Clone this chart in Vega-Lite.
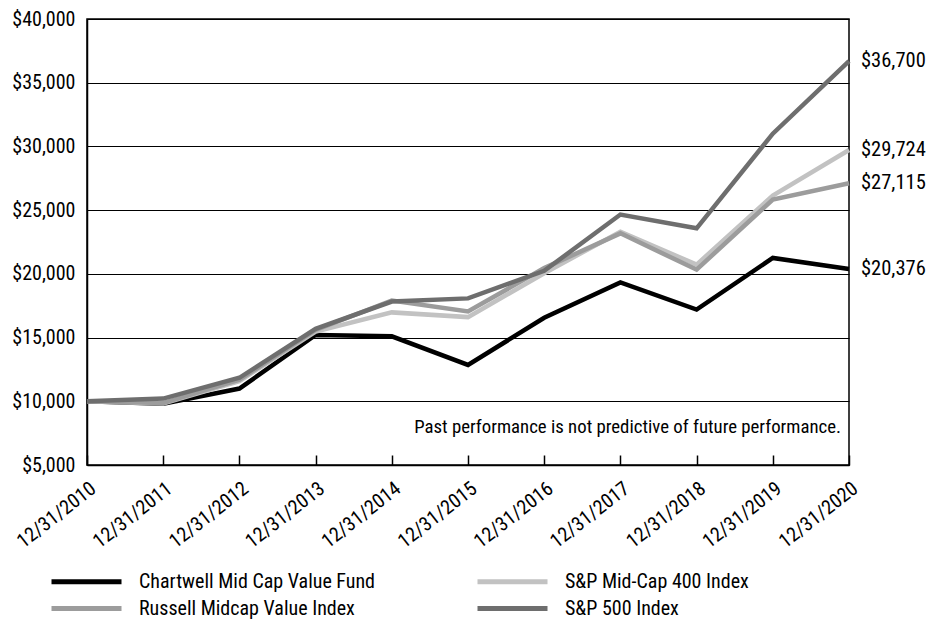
{
  "$schema": "https://vega.github.io/schema/vega-lite/v6.json",
  "width": 762,
  "height": 446,
  "autosize": {"type": "none"},
  "padding": {"left": 87, "top": 19, "right": 81, "bottom": 160},
  "background": "white",
  "config": {
    "font": "Roboto Condensed, Liberation Sans Narrow, Roboto",
    "view": {"stroke": "black", "strokeWidth": 1.5},
    "axis": {"domainColor": "black", "labelColor": "black", "tickColor": "black", "gridColor": "black", "titleColor": "black"}
  },
  "data": {
    "values": [
      {"date": "12/31/2010", "series": "Chartwell Mid Cap Value Fund", "value": 10000},
      {"date": "12/31/2011", "series": "Chartwell Mid Cap Value Fund", "value": 9800},
      {"date": "12/31/2012", "series": "Chartwell Mid Cap Value Fund", "value": 11000},
      {"date": "12/31/2013", "series": "Chartwell Mid Cap Value Fund", "value": 15200},
      {"date": "12/31/2014", "series": "Chartwell Mid Cap Value Fund", "value": 15100},
      {"date": "12/31/2015", "series": "Chartwell Mid Cap Value Fund", "value": 12850},
      {"date": "12/31/2016", "series": "Chartwell Mid Cap Value Fund", "value": 16550},
      {"date": "12/31/2017", "series": "Chartwell Mid Cap Value Fund", "value": 19330},
      {"date": "12/31/2018", "series": "Chartwell Mid Cap Value Fund", "value": 17200},
      {"date": "12/31/2019", "series": "Chartwell Mid Cap Value Fund", "value": 21250},
      {"date": "12/31/2020", "series": "Chartwell Mid Cap Value Fund", "value": 20376},
      {"date": "12/31/2010", "series": "S&P Mid-Cap 400 Index", "value": 10000},
      {"date": "12/31/2011", "series": "S&P Mid-Cap 400 Index", "value": 9827},
      {"date": "12/31/2012", "series": "S&P Mid-Cap 400 Index", "value": 11584},
      {"date": "12/31/2013", "series": "S&P Mid-Cap 400 Index", "value": 15465},
      {"date": "12/31/2014", "series": "S&P Mid-Cap 400 Index", "value": 16976},
      {"date": "12/31/2015", "series": "S&P Mid-Cap 400 Index", "value": 16606},
      {"date": "12/31/2016", "series": "S&P Mid-Cap 400 Index", "value": 20050},
      {"date": "12/31/2017", "series": "S&P Mid-Cap 400 Index", "value": 23306},
      {"date": "12/31/2018", "series": "S&P Mid-Cap 400 Index", "value": 20724},
      {"date": "12/31/2019", "series": "S&P Mid-Cap 400 Index", "value": 26153},
      {"date": "12/31/2020", "series": "S&P Mid-Cap 400 Index", "value": 29724},
      {"date": "12/31/2010", "series": "Russell Midcap Value Index", "value": 10000},
      {"date": "12/31/2011", "series": "Russell Midcap Value Index", "value": 9862},
      {"date": "12/31/2012", "series": "Russell Midcap Value Index", "value": 11687},
      {"date": "12/31/2013", "series": "Russell Midcap Value Index", "value": 15598},
      {"date": "12/31/2014", "series": "Russell Midcap Value Index", "value": 17899},
      {"date": "12/31/2015", "series": "Russell Midcap Value Index", "value": 17043},
      {"date": "12/31/2016", "series": "Russell Midcap Value Index", "value": 20452},
      {"date": "12/31/2017", "series": "Russell Midcap Value Index", "value": 23180},
      {"date": "12/31/2018", "series": "Russell Midcap Value Index", "value": 20331},
      {"date": "12/31/2019", "series": "Russell Midcap Value Index", "value": 25833},
      {"date": "12/31/2020", "series": "Russell Midcap Value Index", "value": 27115},
      {"date": "12/31/2010", "series": "S&P 500 Index", "value": 10000},
      {"date": "12/31/2011", "series": "S&P 500 Index", "value": 10211},
      {"date": "12/31/2012", "series": "S&P 500 Index", "value": 11845},
      {"date": "12/31/2013", "series": "S&P 500 Index", "value": 15682},
      {"date": "12/31/2014", "series": "S&P 500 Index", "value": 17829},
      {"date": "12/31/2015", "series": "S&P 500 Index", "value": 18075},
      {"date": "12/31/2016", "series": "S&P 500 Index", "value": 20237},
      {"date": "12/31/2017", "series": "S&P 500 Index", "value": 24655},
      {"date": "12/31/2018", "series": "S&P 500 Index", "value": 23575},
      {"date": "12/31/2019", "series": "S&P 500 Index", "value": 30999},
      {"date": "12/31/2020", "series": "S&P 500 Index", "value": 36700}
    ]
  },
  "encoding": {
    "x": {
      "field": "date", "type": "ordinal", "title": null,
      "scale": {"type": "point", "padding": 0},
      "axis": {"labelAngle": -38, "labelFontSize": 20, "tickSize": -10, "tickWidth": 1.5, "domainWidth": 1.5, "labelPadding": 23, "labelAlign": "right", "labelBaseline": "top"}
    },
    "y": {
      "field": "value", "type": "quantitative", "title": null,
      "scale": {"domain": [5000, 40000], "nice": false, "zero": false},
      "axis": {"values": [5000, 10000, 15000, 20000, 25000, 30000, 35000, 40000], "format": "$,.0f", "labelFontSize": 20, "ticks": false, "labelPadding": 12, "domainWidth": 1.5, "gridWidth": 1.2}
    }
  },
  "layer": [
    {
      "mark": {"type": "line", "strokeWidth": 4.5, "strokeJoin": "miter"},
      "encoding": {
        "color": {
          "field": "series", "type": "nominal",
          "scale": {
            "domain": ["Chartwell Mid Cap Value Fund", "S&P Mid-Cap 400 Index", "Russell Midcap Value Index", "S&P 500 Index"],
            "range": ["#000000", "#c2c2c2", "#9c9c9c", "#6e6e6e"]
          },
          "legend": {
            "title": null, "orient": "none", "legendX": -38, "legendY": 550,
            "direction": "horizontal", "columns": 2, "symbolType": "M-1,0H6",
            "symbolSize": 400, "symbolStrokeWidth": 5, "labelFontSize": 20, "labelOffset": 65,
            "columnPadding": 91, "rowPadding": 4, "labelColor": "black", "labelLimit": 400
          }
        },
        "detail": {"field": "series"}
      }
    },
    {
      "transform": [{"filter": "datum.date === '12/31/2020'"}],
      "mark": {"type": "text", "align": "left", "dx": 12, "fontSize": 20.5, "color": "black"},
      "encoding": {
        "text": {"field": "value", "type": "quantitative", "format": "$,.0f"}
      }
    },
    {
      "transform": [{"filter": "datum.date === '12/31/2020' && datum.series === 'S&P 500 Index'"}],
      "mark": {"type": "text", "align": "right", "baseline": "middle", "dx": -8, "fontSize": 18.8, "color": "black"},
      "encoding": {
        "x": {"datum": "12/31/2020"},
        "y": {"datum": 7950},
        "text": {"value": "Past performance is not predictive of future performance."}
      }
    }
  ]
}
